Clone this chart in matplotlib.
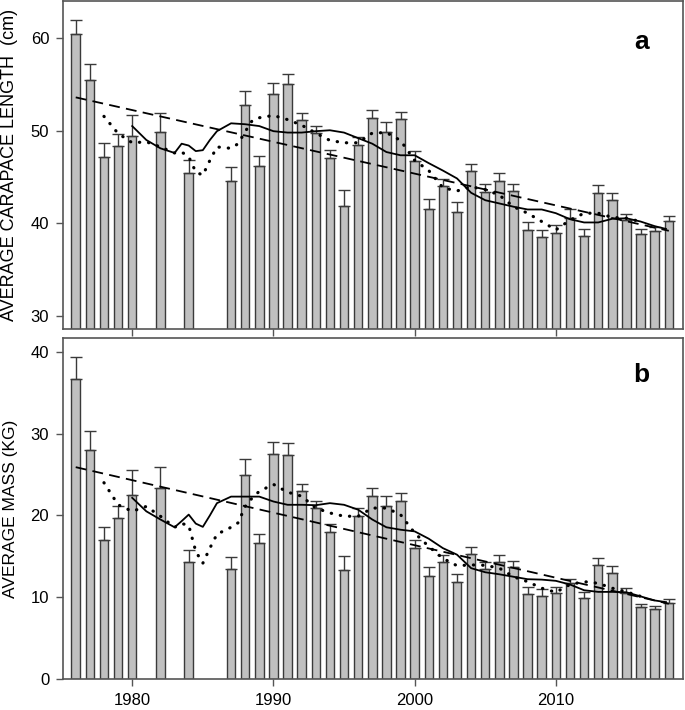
import numpy as np
import matplotlib
matplotlib.use("Agg")
from matplotlib import pyplot as plt

plt.rcParams['font.family'] = ['Liberation Sans', 'DejaVu Sans']

# years with data
years = [1976, 1977, 1978, 1979, 1980, 1982, 1984, 1987, 1988, 1989, 1990,
         1991, 1992, 1993, 1994, 1995, 1996, 1997, 1998, 1999, 2000, 2001,
         2002, 2003, 2004, 2005, 2006, 2007, 2008, 2009, 2010, 2011, 2012,
         2013, 2014, 2015, 2016, 2017, 2018]

# panel a: carapace length (cm)
length = [60.4, 55.5, 47.2, 48.4, 49.4, 49.9, 45.4, 44.6, 52.8, 46.2, 54.0,
          55.0, 51.2, 49.7, 47.1, 41.9, 48.5, 51.35, 49.9, 51.25, 46.7, 41.6,
          44.0, 41.2, 45.6, 43.4, 44.6, 43.5, 39.3, 38.5, 39.0, 40.6, 38.6,
          43.3, 42.5, 40.4, 38.8, 39.15, 40.25]
length_se = [1.5, 1.75, 1.5, 1.2, 2.3, 2.0, 1.4, 1.5, 1.5, 1.1, 1.15,
             1.1, 0.7, 0.8, 0.8, 1.75, 0.8, 0.85, 1.05, 0.8, 1.1, 1.05,
             0.8, 1.1, 0.8, 0.8, 0.8, 0.7, 0.85, 0.75, 0.8, 0.9, 0.8,
             0.85, 0.8, 0.6, 0.6, 0.45, 0.5]

# panel b: mass (kg)
mass = [36.7, 28.0, 17.0, 19.7, 22.55, 23.4, 14.35, 13.5, 25.0, 16.6, 27.55,
        27.4, 23.0, 20.9, 18.0, 13.3, 19.9, 22.35, 21.1, 21.8, 16.0, 12.6,
        14.3, 11.8, 15.3, 13.5, 14.35, 13.65, 10.45, 10.2, 10.55, 11.7, 9.85,
        13.95, 13.0, 10.55, 8.8, 8.6, 9.35]
mass_se = [2.7, 2.3, 1.6, 1.4, 3.0, 2.5, 1.45, 1.4, 1.9, 1.1, 1.45,
           1.5, 0.9, 0.9, 0.9, 1.7, 1.0, 1.05, 1.25, 1.0, 1.0, 1.05,
           0.9, 1.05, 0.85, 0.85, 0.85, 0.75, 0.75, 0.8, 0.75, 0.5, 0.75,
           0.9, 0.85, 0.55, 0.4, 0.35, 0.4]

# linear trend (dashed), end points
trend_years = [1976, 2018]
length_trend = [53.6, 39.2]
mass_trend = [25.9, 9.2]

# smooth curve (solid)
smooth_years = [1980, 1981, 1982, 1983, 1983.5, 1984, 1984.5, 1985, 1985.5,
                1986, 1987, 1988, 1989, 1990, 1991, 1992, 1993, 1994, 1995,
                1996, 1997, 1998, 1999, 2000, 2001, 2002, 2003, 2004, 2005,
                2006, 2007, 2008, 2009, 2010, 2011, 2012, 2013, 2014, 2015,
                2016, 2017, 2017.8]
length_smooth = [50.5, 49.0, 48.1, 47.6, 48.6, 48.4, 47.8, 47.9, 49.0,
                 49.95, 50.8, 50.7, 50.5, 49.95, 49.8, 49.8, 49.95, 50.05, 49.8,
                 49.2, 48.6, 47.7, 47.35, 47.35, 46.5, 45.7, 44.85, 43.3, 42.5,
                 42.15, 41.8, 41.5, 41.5, 41.1, 40.45, 40.1, 40.1, 40.5, 40.55,
                 40.2, 39.7, 39.4]
mass_smooth = [22.15, 20.5, 19.5, 18.55, 19.3, 20.1, 19.0, 18.6, 20.0,
               21.5, 22.3, 22.3, 22.3, 21.7, 21.3, 21.3, 21.25, 21.5, 21.3,
               20.7, 19.5, 18.55, 18.25, 18.05, 17.15, 16.0, 15.2, 13.55, 13.05,
               12.8, 12.5, 12.2, 12.15, 12.0, 11.55, 10.85, 10.65, 10.65, 10.6,
               10.1, 9.6, 9.4]

# moving average (dotted)
dot_years = [1978, 1979, 1980, 1981, 1982, 1983, 1983.5, 1984, 1984.5, 1985,
             1985.5, 1986, 1987, 1987.5, 1988, 1988.5, 1989, 1990, 1991, 1992,
             1993, 1994, 1995, 1996, 1997, 1998, 1999, 2000, 2001, 2002, 2003,
             2004, 2005, 2006, 2007, 2008, 2009, 2010, 2011, 2012, 2013, 2014,
             2015, 2016]
length_dot = [51.55, 49.7, 48.7, 48.8, 48.25, 47.6, 47.7, 47.2, 45.55, 45.2,
              46.8, 48.25, 48.1, 48.6, 49.9, 51.1, 51.4, 51.65, 51.2, 50.6,
              49.75, 48.95, 48.7, 48.7, 49.75, 49.8, 48.95, 46.8, 45.7, 43.85, 43.5,
              43.95, 43.65, 43.05, 41.8, 41.1, 40.2, 39.3, 40.35, 41.1, 41.1, 40.65,
              40.55, 40.2]
mass_dot = [24.0, 21.3, 20.5, 21.1, 19.9, 18.55, 19.0, 18.8, 15.6, 14.15,
            16.0, 17.7, 18.55, 19.1, 21.1, 22.15, 22.95, 23.8, 22.85, 22.35,
            20.9, 20.3, 19.9, 19.9, 20.9, 20.9, 20.1, 17.85, 16.2, 14.75, 13.85,
            13.95, 13.9, 13.55, 12.5, 11.9, 11.1, 10.6, 11.55, 11.9, 11.7, 11.1,
            10.65, 10.1]

fig = plt.figure(figsize=(6.85, 7.1), dpi=100)
ax1 = fig.add_axes([0.092, 0.5366, 0.905, 0.4620])
ax2 = fig.add_axes([0.092, 0.0437, 0.905, 0.4803])

panels = [
    (ax1, length, length_se, length_trend, length_smooth, length_dot,
     (28.6, 64.0), [30, 40, 50, 60], 'AVERAGE CARAPACE LENGTH  (cm)', 13.0,
     'a', 0.875),
    (ax2, mass, mass_se, mass_trend, mass_smooth, mass_dot,
     (0, 41.7), [0, 10, 20, 30, 40], 'AVERAGE MASS (KG)', 12.5,
     'b', 0.89),
]

edge = '#3a3a3a'
for ax, vals, se, trend, smooth, dot, ylim, yt, ylab, labsize, letter, ly in panels:
    ax.bar(years, vals, width=0.6, color='#c0c0c0', edgecolor=edge,
           linewidth=1.0, zorder=2)
    ax.errorbar(years, vals, yerr=[np.zeros(len(se)), se], fmt='none',
                ecolor=edge, elinewidth=1.0, capsize=4, capthick=1.0, zorder=3)
    ax.plot(trend_years, trend, color='black', lw=1.3, ls=(0, (6, 3.5)), zorder=4)
    ax.plot(smooth_years, smooth, color='black', lw=1.3, zorder=4)
    ax.plot(dot_years, dot, color='black', lw=2.3, ls=(0, (0.1, 2.8)),
            dash_capstyle='round', zorder=4)
    ax.set_xlim(1975.1, 2019.0)
    ax.set_ylim(*ylim)
    ax.set_yticks(yt)
    ax.set_xticks([1980, 1990, 2000, 2010])
    ax.set_ylabel(ylab, fontsize=labsize)
    ax.yaxis.set_label_coords(-0.073, 0.5)
    ax.text(0.933, ly, letter, transform=ax.transAxes, fontsize=19,
            fontweight='bold', ha='center', va='center')
    ax.tick_params(direction='out', length=5, width=1, color='#555555',
                   labelsize=12, pad=5)
    for s in ax.spines.values():
        s.set_color('#555555')
        s.set_linewidth(1.2)

ax1.set_xticklabels([])

fig.savefig('out.png', dpi=100)
